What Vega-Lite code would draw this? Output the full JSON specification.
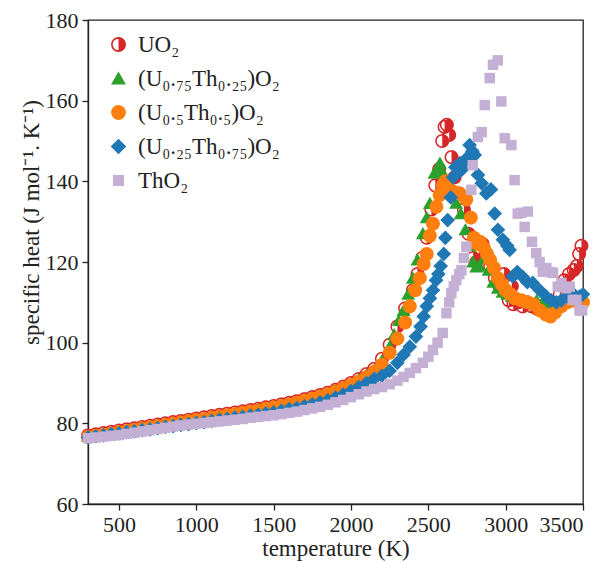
{
"$schema": "https://vega.github.io/schema/vega-lite/v6.json",
"width": 495, "height": 484,
"autosize": {"type": "none"},
"padding": {"left": 88, "top": 20, "right": 22, "bottom": 59},
"background": "white",
"config": {
 "view": {"stroke": "#222", "strokeWidth": 1.3},
 "font": "Liberation Serif",
 "axis": {"labelFont": "Liberation Serif", "labelFontSize": 22, "labelColor": "#222", "titleFont": "Liberation Serif", "titleFontSize": 23, "titleFontWeight": "normal", "titleColor": "#222", "tickColor": "#222", "domainColor": "#222", "tickSize": 6, "tickWidth": 1.3, "domainWidth": 1.3, "labelPadding": 4, "grid": false}
},
"data": {"values": [
{"m":"a","T":300,"C":77.0},{"m":"a","T":350,"C":77.3},{"m":"a","T":400,"C":77.6},{"m":"a","T":450,"C":77.9},{"m":"a","T":500,"C":78.2},{"m":"a","T":550,"C":78.5},{"m":"a","T":600,"C":78.8},{"m":"a","T":650,"C":79.1},{"m":"a","T":700,"C":79.4},{"m":"a","T":750,"C":79.7},{"m":"a","T":800,"C":80.0},{"m":"a","T":850,"C":80.3},{"m":"a","T":900,"C":80.6},{"m":"a","T":950,"C":80.9},{"m":"a","T":1000,"C":81.2},{"m":"a","T":1050,"C":81.5},{"m":"a","T":1100,"C":81.8},{"m":"a","T":1150,"C":82.1},{"m":"a","T":1200,"C":82.4},{"m":"a","T":1250,"C":82.7},{"m":"a","T":1300,"C":83.0},{"m":"a","T":1350,"C":83.3},{"m":"a","T":1400,"C":83.6},{"m":"a","T":1450,"C":84.0},{"m":"a","T":1500,"C":84.3},{"m":"a","T":1550,"C":84.7},{"m":"a","T":1600,"C":85.1},{"m":"a","T":1650,"C":85.5},{"m":"a","T":1700,"C":86.0},{"m":"a","T":1750,"C":86.5},{"m":"a","T":1800,"C":87.0},{"m":"a","T":1850,"C":87.6},{"m":"a","T":1900,"C":88.3},{"m":"a","T":1950,"C":89.1},{"m":"a","T":2000,"C":90.0},{"m":"a","T":2050,"C":91.0},{"m":"a","T":2100,"C":92.2},{"m":"a","T":2150,"C":93.5},
{"m":"a","T":2200,"C":96},{"m":"a","T":2250,"C":99.5},{"m":"a","T":2300,"C":104},{"m":"a","T":2350,"C":108.5},{"m":"a","T":2400,"C":113},{"m":"a","T":2430,"C":117},{"m":"a","T":2460,"C":121},{"m":"a","T":2490,"C":126},{"m":"a","T":2520,"C":133},{"m":"a","T":2545,"C":139},{"m":"a","T":2570,"C":143},{"m":"a","T":2590,"C":150},{"m":"a","T":2605,"C":153.5},{"m":"a","T":2620,"C":154},{"m":"a","T":2635,"C":151.5},{"m":"a","T":2650,"C":146},{"m":"a","T":2670,"C":141},{"m":"a","T":2700,"C":137},{"m":"a","T":2730,"C":133},{"m":"a","T":2760,"C":127},{"m":"a","T":2790,"C":121},{"m":"a","T":2810,"C":120},{"m":"a","T":2830,"C":123},{"m":"a","T":2850,"C":124.5},{"m":"a","T":2870,"C":122},{"m":"a","T":2900,"C":119},{"m":"a","T":2930,"C":116},{"m":"a","T":2960,"C":114},{"m":"a","T":2990,"C":117},{"m":"a","T":3000,"C":112.5},{"m":"a","T":3020,"C":110.5},{"m":"a","T":3040,"C":114},{"m":"a","T":3050,"C":109.5},{"m":"a","T":3080,"C":110},{"m":"a","T":3110,"C":109},{"m":"a","T":3140,"C":110},{"m":"a","T":3170,"C":109},{"m":"a","T":3200,"C":108.5},{"m":"a","T":3230,"C":109},{"m":"a","T":3260,"C":108},{"m":"a","T":3290,"C":108},{"m":"a","T":3320,"C":109.5},{"m":"a","T":3350,"C":112},{"m":"a","T":3380,"C":115.5},{"m":"a","T":3410,"C":117},{"m":"a","T":3440,"C":118},{"m":"a","T":3460,"C":119},{"m":"a","T":3475,"C":122},{"m":"a","T":3490,"C":124},
{"m":"b","T":300,"C":76.8},{"m":"b","T":350,"C":77.1},{"m":"b","T":400,"C":77.4},{"m":"b","T":450,"C":77.7},{"m":"b","T":500,"C":78.0},{"m":"b","T":550,"C":78.3},{"m":"b","T":600,"C":78.6},{"m":"b","T":650,"C":78.9},{"m":"b","T":700,"C":79.2},{"m":"b","T":750,"C":79.5},{"m":"b","T":800,"C":79.8},{"m":"b","T":850,"C":80.1},{"m":"b","T":900,"C":80.4},{"m":"b","T":950,"C":80.7},{"m":"b","T":1000,"C":81.0},{"m":"b","T":1050,"C":81.3},{"m":"b","T":1100,"C":81.6},{"m":"b","T":1150,"C":81.9},{"m":"b","T":1200,"C":82.2},{"m":"b","T":1250,"C":82.5},{"m":"b","T":1300,"C":82.8},{"m":"b","T":1350,"C":83.1},{"m":"b","T":1400,"C":83.4},{"m":"b","T":1450,"C":83.8},{"m":"b","T":1500,"C":84.1},{"m":"b","T":1550,"C":84.5},{"m":"b","T":1600,"C":84.9},{"m":"b","T":1650,"C":85.3},{"m":"b","T":1700,"C":85.8},{"m":"b","T":1750,"C":86.3},{"m":"b","T":1800,"C":86.8},{"m":"b","T":1850,"C":87.4},{"m":"b","T":1900,"C":88.1},{"m":"b","T":1950,"C":88.9},{"m":"b","T":2000,"C":89.8},{"m":"b","T":2050,"C":90.8},{"m":"b","T":2100,"C":92.0},{"m":"b","T":2150,"C":93.2},
{"m":"b","T":2200,"C":95.5},{"m":"b","T":2250,"C":99},{"m":"b","T":2280,"C":102},{"m":"b","T":2310,"C":105.5},{"m":"b","T":2340,"C":108},{"m":"b","T":2370,"C":112},{"m":"b","T":2400,"C":116},{"m":"b","T":2430,"C":120.5},{"m":"b","T":2465,"C":127},{"m":"b","T":2490,"C":131},{"m":"b","T":2510,"C":134.5},{"m":"b","T":2540,"C":142},{"m":"b","T":2560,"C":143.3},{"m":"b","T":2575,"C":144.5},{"m":"b","T":2595,"C":142},{"m":"b","T":2620,"C":139},{"m":"b","T":2650,"C":137},{"m":"b","T":2680,"C":134.6},{"m":"b","T":2710,"C":132},{"m":"b","T":2740,"C":128},{"m":"b","T":2770,"C":124},{"m":"b","T":2790,"C":120},{"m":"b","T":2810,"C":118.8},{"m":"b","T":2830,"C":119},{"m":"b","T":2860,"C":121},{"m":"b","T":2890,"C":118},{"m":"b","T":2920,"C":115},{"m":"b","T":2950,"C":113.5},{"m":"b","T":2980,"C":112.5},{"m":"b","T":3010,"C":112},{"m":"b","T":3040,"C":111.5},{"m":"b","T":3080,"C":111},{"m":"b","T":3120,"C":110.5},{"m":"b","T":3160,"C":110},{"m":"b","T":3200,"C":110.5},{"m":"b","T":3240,"C":110},{"m":"b","T":3280,"C":109.5},{"m":"b","T":3320,"C":110},{"m":"b","T":3360,"C":110.5},{"m":"b","T":3400,"C":111},{"m":"b","T":3440,"C":111},{"m":"b","T":3480,"C":110.5},
{"m":"c","T":300,"C":76.6},{"m":"c","T":350,"C":76.9},{"m":"c","T":400,"C":77.2},{"m":"c","T":450,"C":77.5},{"m":"c","T":500,"C":77.8},{"m":"c","T":550,"C":78.1},{"m":"c","T":600,"C":78.4},{"m":"c","T":650,"C":78.7},{"m":"c","T":700,"C":79.0},{"m":"c","T":750,"C":79.3},{"m":"c","T":800,"C":79.6},{"m":"c","T":850,"C":79.9},{"m":"c","T":900,"C":80.2},{"m":"c","T":950,"C":80.5},{"m":"c","T":1000,"C":80.8},{"m":"c","T":1050,"C":81.1},{"m":"c","T":1100,"C":81.4},{"m":"c","T":1150,"C":81.7},{"m":"c","T":1200,"C":82.0},{"m":"c","T":1250,"C":82.3},{"m":"c","T":1300,"C":82.6},{"m":"c","T":1350,"C":82.9},{"m":"c","T":1400,"C":83.2},{"m":"c","T":1450,"C":83.6},{"m":"c","T":1500,"C":83.9},{"m":"c","T":1550,"C":84.3},{"m":"c","T":1600,"C":84.7},{"m":"c","T":1650,"C":85.1},{"m":"c","T":1700,"C":85.6},{"m":"c","T":1750,"C":86.1},{"m":"c","T":1800,"C":86.6},{"m":"c","T":1850,"C":87.2},{"m":"c","T":1900,"C":87.9},{"m":"c","T":1950,"C":88.7},{"m":"c","T":2000,"C":89.5},{"m":"c","T":2050,"C":90.4},{"m":"c","T":2100,"C":91.5},{"m":"c","T":2150,"C":92.8},
{"m":"c","T":2200,"C":94.5},{"m":"c","T":2250,"C":97.5},{"m":"c","T":2300,"C":101},{"m":"c","T":2350,"C":105},{"m":"c","T":2380,"C":109},{"m":"c","T":2415,"C":113},{"m":"c","T":2445,"C":116},{"m":"c","T":2470,"C":119.5},{"m":"c","T":2490,"C":122},{"m":"c","T":2510,"C":126.5},{"m":"c","T":2530,"C":129.5},{"m":"c","T":2552,"C":133.7},{"m":"c","T":2573,"C":136.6},{"m":"c","T":2595,"C":139},{"m":"c","T":2610,"C":140},{"m":"c","T":2630,"C":138.5},{"m":"c","T":2660,"C":137.5},{"m":"c","T":2700,"C":137},{"m":"c","T":2745,"C":135.5},{"m":"c","T":2775,"C":131},{"m":"c","T":2795,"C":126},{"m":"c","T":2815,"C":124.5},{"m":"c","T":2835,"C":125},{"m":"c","T":2860,"C":123.5},{"m":"c","T":2880,"C":122},{"m":"c","T":2900,"C":120.5},{"m":"c","T":2925,"C":118.5},{"m":"c","T":2950,"C":116},{"m":"c","T":2975,"C":114.5},{"m":"c","T":3000,"C":113},{"m":"c","T":3030,"C":112},{"m":"c","T":3060,"C":111},{"m":"c","T":3100,"C":110.5},{"m":"c","T":3140,"C":110},{"m":"c","T":3180,"C":109.5},{"m":"c","T":3220,"C":108},{"m":"c","T":3260,"C":107},{"m":"c","T":3290,"C":106.5},{"m":"c","T":3320,"C":107.5},{"m":"c","T":3360,"C":109},{"m":"c","T":3400,"C":110},{"m":"c","T":3440,"C":110.5},{"m":"c","T":3480,"C":109.5},{"m":"c","T":3500,"C":110},
{"m":"d","T":300,"C":76.5},{"m":"d","T":350,"C":76.8},{"m":"d","T":400,"C":77.0},{"m":"d","T":450,"C":77.3},{"m":"d","T":500,"C":77.5},{"m":"d","T":550,"C":77.8},{"m":"d","T":600,"C":78.0},{"m":"d","T":650,"C":78.3},{"m":"d","T":700,"C":78.5},{"m":"d","T":750,"C":78.8},{"m":"d","T":800,"C":79.1},{"m":"d","T":850,"C":79.3},{"m":"d","T":900,"C":79.6},{"m":"d","T":950,"C":79.8},{"m":"d","T":1000,"C":80.1},{"m":"d","T":1050,"C":80.3},{"m":"d","T":1100,"C":80.6},{"m":"d","T":1150,"C":80.9},{"m":"d","T":1200,"C":81.1},{"m":"d","T":1250,"C":81.4},{"m":"d","T":1300,"C":81.6},{"m":"d","T":1350,"C":81.9},{"m":"d","T":1400,"C":82.1},{"m":"d","T":1450,"C":82.5},{"m":"d","T":1500,"C":82.7},{"m":"d","T":1550,"C":83.1},{"m":"d","T":1600,"C":83.5},{"m":"d","T":1650,"C":83.8},{"m":"d","T":1700,"C":84.3},{"m":"d","T":1750,"C":84.7},{"m":"d","T":1800,"C":85.2},{"m":"d","T":1850,"C":85.7},{"m":"d","T":1900,"C":86.4},{"m":"d","T":1950,"C":87.1},{"m":"d","T":2000,"C":88.0},{"m":"d","T":2050,"C":89.0},{"m":"d","T":2100,"C":90.0},{"m":"d","T":2150,"C":91.0},
{"m":"d","T":2200,"C":91.8},{"m":"d","T":2250,"C":93},{"m":"d","T":2300,"C":95},{"m":"d","T":2340,"C":97},{"m":"d","T":2380,"C":99},{"m":"d","T":2420,"C":101.5},{"m":"d","T":2450,"C":104},{"m":"d","T":2470,"C":106.5},{"m":"d","T":2490,"C":109},{"m":"d","T":2510,"C":111},{"m":"d","T":2530,"C":113},{"m":"d","T":2550,"C":115.5},{"m":"d","T":2565,"C":117},{"m":"d","T":2580,"C":119},{"m":"d","T":2600,"C":122},{"m":"d","T":2610,"C":126},{"m":"d","T":2625,"C":130.4},{"m":"d","T":2645,"C":136},{"m":"d","T":2660,"C":141},{"m":"d","T":2675,"C":143.5},{"m":"d","T":2690,"C":142},{"m":"d","T":2705,"C":144.5},{"m":"d","T":2720,"C":143},{"m":"d","T":2740,"C":145},{"m":"d","T":2755,"C":146},{"m":"d","T":2767,"C":149},{"m":"d","T":2785,"C":147.5},{"m":"d","T":2800,"C":146.5},{"m":"d","T":2821,"C":141.6},{"m":"d","T":2845,"C":139.5},{"m":"d","T":2875,"C":137},{"m":"d","T":2905,"C":138},{"m":"d","T":2929,"C":132},{"m":"d","T":2950,"C":128},{"m":"d","T":2982,"C":125.5},{"m":"d","T":3010,"C":124},{"m":"d","T":3026,"C":123},{"m":"d","T":3046,"C":116.4},{"m":"d","T":3075,"C":117.5},{"m":"d","T":3110,"C":116.3},{"m":"d","T":3140,"C":115},{"m":"d","T":3175,"C":114.8},{"m":"d","T":3220,"C":113},{"m":"d","T":3263,"C":111.4},{"m":"d","T":3295,"C":110.5},{"m":"d","T":3328,"C":110},{"m":"d","T":3360,"C":110.5},{"m":"d","T":3400,"C":111.5},{"m":"d","T":3440,"C":112},{"m":"d","T":3478,"C":111.4},{"m":"d","T":3500,"C":112},
{"m":"e","T":300,"C":76.3},{"m":"e","T":350,"C":76.5},{"m":"e","T":400,"C":76.7},{"m":"e","T":450,"C":76.9},{"m":"e","T":500,"C":77.1},{"m":"e","T":550,"C":77.4},{"m":"e","T":600,"C":77.7},{"m":"e","T":650,"C":78.0},{"m":"e","T":700,"C":78.3},{"m":"e","T":750,"C":78.6},{"m":"e","T":800,"C":78.9},{"m":"e","T":850,"C":79.2},{"m":"e","T":900,"C":79.5},{"m":"e","T":950,"C":79.7},{"m":"e","T":1000,"C":79.9},{"m":"e","T":1050,"C":80.1},{"m":"e","T":1100,"C":80.3},{"m":"e","T":1150,"C":80.5},{"m":"e","T":1200,"C":80.7},{"m":"e","T":1250,"C":80.9},{"m":"e","T":1300,"C":81.1},{"m":"e","T":1350,"C":81.4},{"m":"e","T":1400,"C":81.6},{"m":"e","T":1450,"C":81.8},{"m":"e","T":1500,"C":82.0},{"m":"e","T":1550,"C":82.3},{"m":"e","T":1600,"C":82.6},{"m":"e","T":1650,"C":82.9},{"m":"e","T":1700,"C":83.3},{"m":"e","T":1750,"C":83.7},{"m":"e","T":1800,"C":84.1},{"m":"e","T":1850,"C":84.6},{"m":"e","T":1900,"C":85.2},{"m":"e","T":1950,"C":85.8},{"m":"e","T":2000,"C":86.5},{"m":"e","T":2050,"C":87.2},{"m":"e","T":2100,"C":87.9},{"m":"e","T":2150,"C":88.5},
{"m":"e","T":2200,"C":89.0},{"m":"e","T":2250,"C":89.7},{"m":"e","T":2300,"C":90.6},{"m":"e","T":2340,"C":91.5},{"m":"e","T":2380,"C":92.5},{"m":"e","T":2420,"C":93.7},{"m":"e","T":2465,"C":95},{"m":"e","T":2500,"C":96.5},{"m":"e","T":2530,"C":98.2},{"m":"e","T":2560,"C":100},{"m":"e","T":2593,"C":102.4},{"m":"e","T":2617,"C":107.3},{"m":"e","T":2635,"C":110},{"m":"e","T":2649,"C":112.3},{"m":"e","T":2665,"C":114},{"m":"e","T":2681,"C":115.5},{"m":"e","T":2700,"C":117},{"m":"e","T":2714,"C":118},{"m":"e","T":2730,"C":121},{"m":"e","T":2746,"C":123.8},{"m":"e","T":2778,"C":137.9},{"m":"e","T":2787,"C":144},{"m":"e","T":2820,"C":151},{"m":"e","T":2845,"C":152.2},{"m":"e","T":2865,"C":158.9},{"m":"e","T":2897,"C":165.6},{"m":"e","T":2918,"C":168.9},{"m":"e","T":2949,"C":170},{"m":"e","T":2972,"C":159.8},{"m":"e","T":2994,"C":150.7},{"m":"e","T":3037,"C":149},{"m":"e","T":3058,"C":140.3},{"m":"e","T":3078,"C":132},{"m":"e","T":3101,"C":132.2},{"m":"e","T":3123,"C":128.7},{"m":"e","T":3143,"C":132.5},{"m":"e","T":3170,"C":125},{"m":"e","T":3198,"C":122.2},{"m":"e","T":3220,"C":120},{"m":"e","T":3240,"C":117.6},{"m":"e","T":3263,"C":118.5},{"m":"e","T":3290,"C":117.5},{"m":"e","T":3306,"C":117.3},{"m":"e","T":3337,"C":113.9},{"m":"e","T":3360,"C":114.8},{"m":"e","T":3390,"C":113.5},{"m":"e","T":3414,"C":113.9},{"m":"e","T":3434,"C":110.6},{"m":"e","T":3457,"C":110.6},{"m":"e","T":3478,"C":108},{"m":"e","T":3495,"C":108}
]},
"mark": {"type": "point", "filled": true, "opacity": 1, "strokeWidth": 0, "size": 196},
"encoding": {
 "x": {"field": "T", "type": "quantitative", "scale": {"domain": [300, 3500], "nice": false, "zero": false}, "axis": {"values": [500, 1000, 1500, 2000, 2500, 3000, 3500], "format": "d", "title": "temperature (K)", "titlePadding": 2}},
 "y": {"field": "C", "type": "quantitative", "scale": {"domain": [60, 180], "nice": false, "zero": false}, "axis": {"values": [60, 80, 100, 120, 140, 160, 180], "format": "d", "title": "specific heat (J mol⁻¹. K⁻¹)", "titlePadding": 2, "titleY": 202}},
 "color": {"field": "m", "type": "nominal", "scale": {"domain": ["a", "b", "c", "d", "e"], "range": ["#d62728", "#2ca02c", "#ff7f0e", "#1f77b4", "#c5b0d5"]},
  "legend": {"orient": "none", "legendX": 19, "legendY": 13, "padding": 0, "title": null, "labelFont": "Liberation Serif", "labelFontSize": 23, "labelColor": "#222", "labelOffset": 8, "rowPadding": 10, "symbolSize": 220, "symbolStrokeWidth": 0,
   "labelExpr": "datum.value == 'a' ? 'UO₂' : datum.value == 'b' ? '(U₀.₇₅Th₀.₂₅)O₂' : datum.value == 'c' ? '(U₀.₅Th₀.₅)O₂' : datum.value == 'd' ? '(U₀.₂₅Th₀.₇₅)O₂' : 'ThO₂'"}},
 "shape": {"field": "m", "type": "nominal", "scale": {"domain": ["a", "b", "c", "d", "e"], "range": [
   "M0,-1L0.259,-0.966L0.5,-0.866L0.707,-0.707L0.866,-0.5L0.966,-0.259L1,0L0.966,0.259L0.866,0.5L0.707,0.707L0.5,0.866L0.259,0.966L0,1L-0.259,0.966L-0.5,0.866L-0.707,0.707L-0.866,0.5L-0.966,0.259L-1,0L-0.966,-0.259L-0.866,-0.5L-0.707,-0.707L-0.5,-0.866L-0.259,-0.966ZM0,-0.78L-0.202,-0.753L-0.39,-0.675L-0.552,-0.552L-0.675,-0.39L-0.753,-0.202L-0.78,0L-0.753,0.202L-0.675,0.39L-0.552,0.552L-0.39,0.675L-0.202,0.753L0,0.78L0.202,0.753L0.39,0.675L0.552,0.552L0.675,0.39L0.753,0.202L0.78,0L0.753,-0.202L0.675,-0.39L0.552,-0.552L0.39,-0.675L0.202,-0.753ZM0,-0.8L0.207,-0.773L0.4,-0.693L0.566,-0.566L0.693,-0.4L0.773,-0.207L0.8,0L0.773,0.207L0.693,0.4L0.566,0.566L0.4,0.693L0.207,0.773L0,0.8Z",
   "M0,-0.95L1,0.8L-1,0.8Z",
   "circle",
   "M0,-1.05L1.05,0L0,1.05L-1.05,0Z",
   "M-0.75,-0.75L0.75,-0.75L0.75,0.75L-0.75,0.75Z"]}}
}
}
